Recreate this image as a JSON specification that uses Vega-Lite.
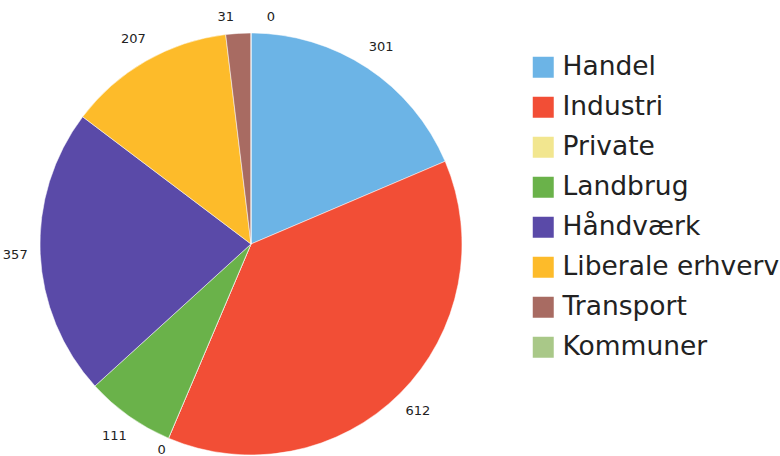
{
  "$schema": "https://vega.github.io/schema/vega-lite/v6.json",
  "width": 502,
  "height": 456,
  "autosize": "none",
  "padding": {"left": 0, "top": 16, "right": 278, "bottom": 0},
  "background": "white",
  "data": {
    "values": [
      {"cat": "Handel", "v": 301, "i": 1},
      {"cat": "Industri", "v": 612, "i": 2},
      {"cat": "Private", "v": 0, "i": 3},
      {"cat": "Landbrug", "v": 111, "i": 4},
      {"cat": "Håndværk", "v": 357, "i": 5},
      {"cat": "Liberale erhverv", "v": 207, "i": 6},
      {"cat": "Transport", "v": 31, "i": 7},
      {"cat": "Kommuner", "v": 0, "i": 8}
    ]
  },
  "encoding": {
    "theta": {"field": "v", "type": "quantitative", "stack": true},
    "order": {"field": "i", "type": "quantitative"}
  },
  "layer": [
    {
      "mark": {"type": "arc", "outerRadius": 211, "stroke": "#ffffff", "strokeWidth": 0.5},
      "encoding": {
        "color": {
          "field": "cat",
          "type": "nominal",
          "scale": {
            "domain": ["Handel", "Industri", "Private", "Landbrug", "Håndværk", "Liberale erhverv", "Transport", "Kommuner"],
            "range": ["#6cb4e6", "#f24e36", "#f2e68f", "#6ab24a", "#5a4aa8", "#fdbb2a", "#a86b62", "#a9c888"]
          },
          "legend": {
            "title": null,
            "orient": "none",
            "legendX": 530,
            "legendY": 38,
            "symbolType": "square",
            "symbolSize": 441,
            "symbolStrokeWidth": 0,
            "symbolOpacity": 1,
            "labelFont": "DejaVu Sans",
            "labelFontSize": 26.5,
            "labelColor": "#222222",
            "labelOffset": 6,
            "rowPadding": 13,
            "labelLimit": 400
          }
        }
      }
    },
    {
      "mark": {
        "type": "text",
        "radius": 236,
        "font": "DejaVu Sans",
        "fontSize": 13,
        "color": "#222222",
        "dx": {"expr": "datum.cat === 'Transport' ? -11 : datum.cat === 'Kommuner' ? 20 : datum.cat === 'Private' ? 3 : 0"},
        "dy": {"expr": "datum.cat === 'Transport' || datum.cat === 'Kommuner' ? 9 : datum.cat === 'Private' ? -11 : 0"}
      },
      "encoding": {
        "text": {"field": "v", "type": "quantitative"}
      }
    }
  ]
}
